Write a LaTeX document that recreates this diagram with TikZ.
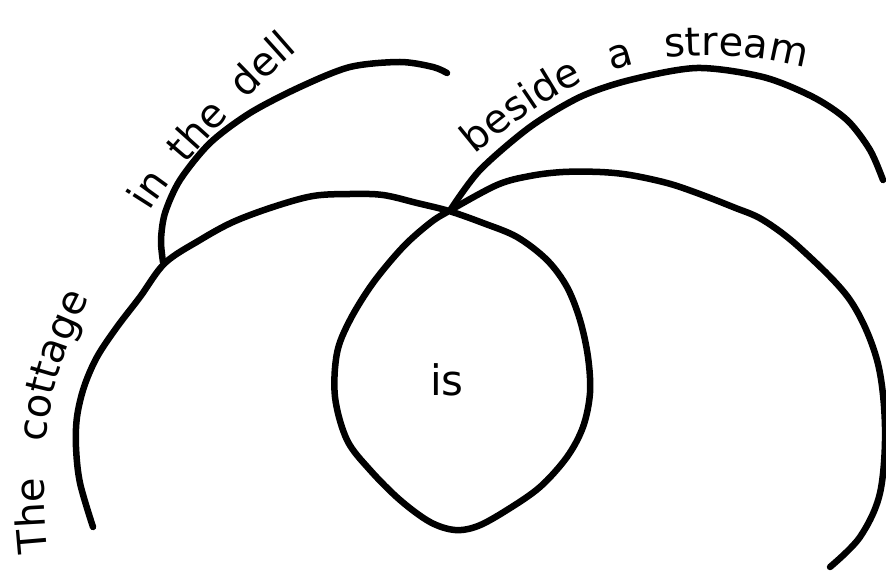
\documentclass[tikz,border=0pt]{standalone}
\usepackage{fontspec}
\setsansfont{DejaVu Sans}
\usetikzlibrary{decorations.text}
\newcommand{\tagfont}{\fontsize{40}{48}\selectfont\sffamily}
\newcommand{\isfont}{\fontsize{42}{50}\selectfont\sffamily}
\begin{document}
\begin{tikzpicture}[x=1pt,y=-1pt,
	inkline/.style={line width=6.5pt, line cap=round, line join=round},
	handtext/.style={decorate, decoration={text along path, text align={fit to path stretching spaces}, text={|\tagfont|#1}}}]
	\useasboundingbox (0,0) rectangle (886,572);
% the long stroke: left arc, loop, right arc
	\draw[inkline] plot[smooth, tension=0.55] coordinates {(93,527) (80,483) (76,447) (77,417) (84,387) (97,357) (117,327) (140,297) (165,263) (200,240) (233,222) (273,207) (313,196) (350,194) (383,195) (417,203) (449,211) (483,223) (517,237) (547,260) (567,287) (580,320) (588,357) (590,393) (583,427) (567,457) (540,487) (507,510) (478,526) (455,530) (430,522) (400,500) (370,470) (347,440) (335,397) (337,353) (350,320) (373,283) (403,247) (430,223) (449,211) (497,185) (530,176) (563,172) (600,172) (630,175) (667,183) (697,193) (733,207) (763,220) (800,248) (850,300) (877,360) (885,427) (880,493) (860,537) (830,567)};
%
	\draw[inkline] plot[smooth] coordinates {(163,262) (161,240) (165,213) (180,180) (210,143) (250,113) (300,87) (350,67) (400,62) (433,67) (447,73)};
	\draw[inkline] plot[smooth] coordinates {(451,209) (480,170) (530,127) (580,97) (630,80) (697,68) (763,77) (813,97) (847,120) (870,150) (883,180)};
%
	\begin{scope}[shift={(48,552)}]
		\path[handtext={The cottage}] (0,0) .. controls (-10,-100) and (-2,-170) .. (42,-254);
	\end{scope}
	\begin{scope}[shift={(150,212)}]
		\path[handtext={in the dell}] (0,0) .. controls (30,-50) and (105,-125) .. (148,-162);
	\end{scope}
	\begin{scope}[shift={(475,155)}]
		\path[handtext={beside a stream}] (0,0) .. controls (55,-45) and (105,-85) .. (190,-97) .. controls (245,-103) and (295,-97) .. (330,-87);
	\end{scope}
%
	\node[font=\isfont] (is) at (447,380) {is};
\end{tikzpicture}
\end{document}
